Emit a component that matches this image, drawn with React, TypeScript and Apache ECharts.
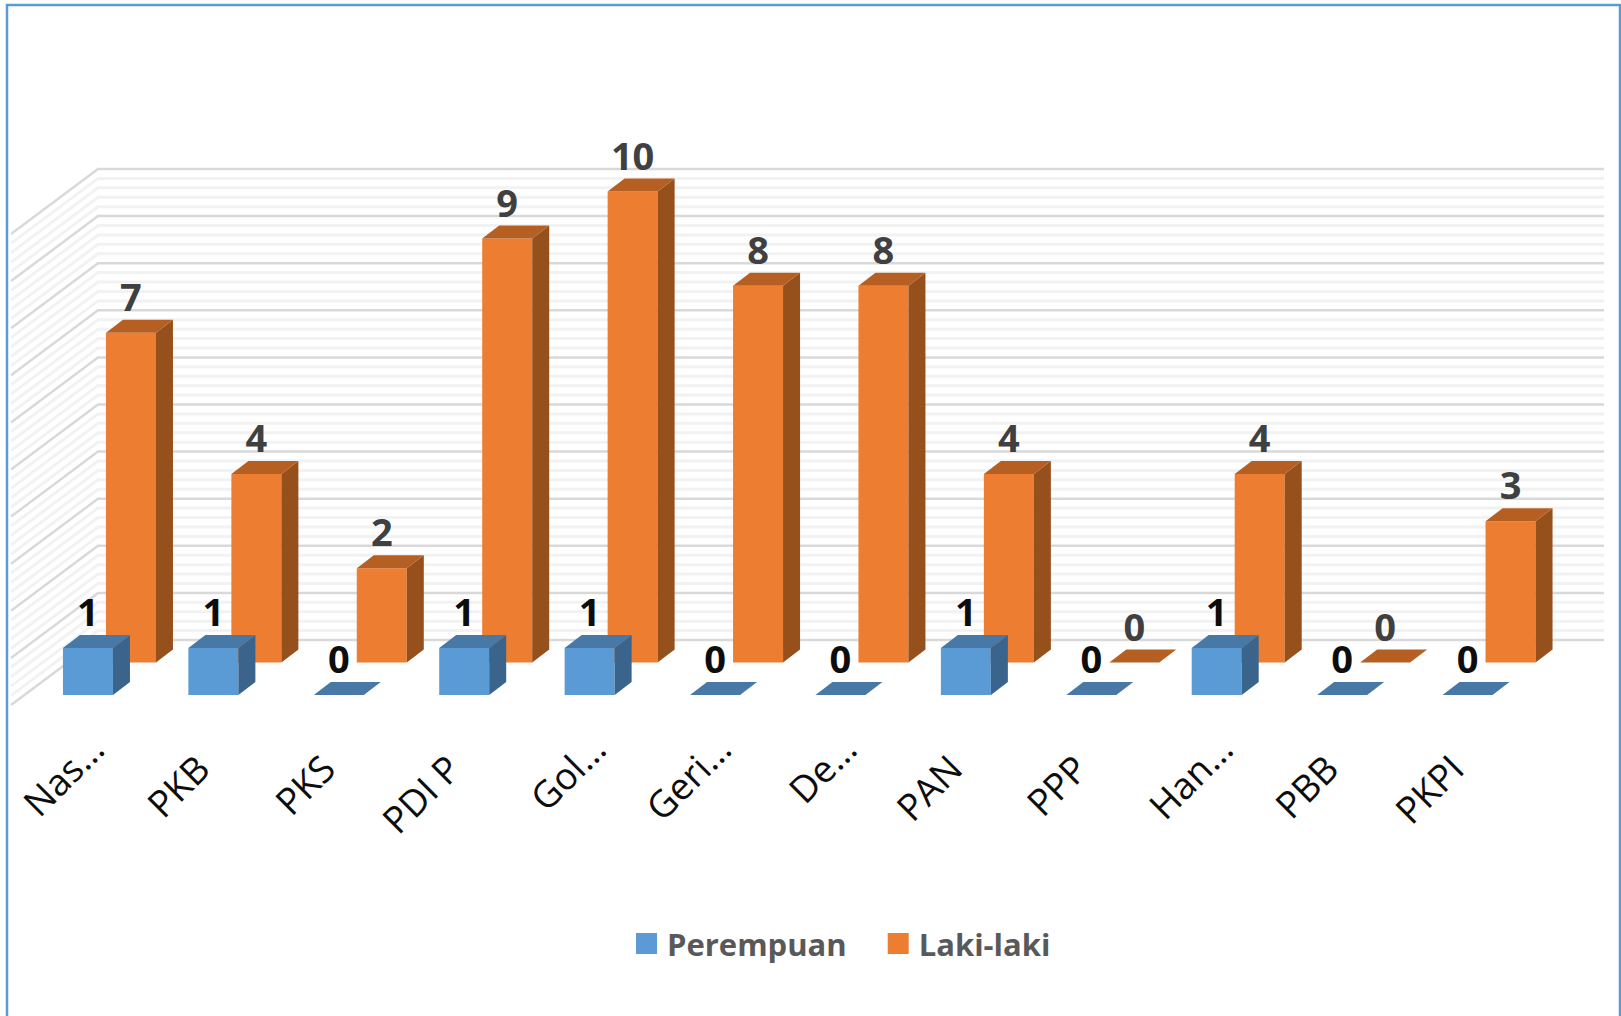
import React, { useEffect, useRef } from "react";
import * as echarts from "echarts";

const categories = ["Nas…", "PKB", "PKS", "PDI P", "Gol…", "Geri…", "De…", "PAN", "PPP", "Han…", "PBB", "PKPI"];
const perempuan = [1, 1, 0, 1, 1, 0, 0, 1, 0, 1, 0, 0];
const lakiLaki = [7, 4, 2, 9, 10, 8, 8, 4, 0, 4, 0, 3];
const gridValues = [
  0, 0.2, 0.4, 0.6, 0.8, 1, 1.2, 1.4, 1.6, 1.8, 2, 2.2, 2.4, 2.6, 2.8, 3, 3.2, 3.4, 3.6, 3.8, 4, 4.2, 4.4, 4.6, 4.8,
  5, 5.2, 5.4, 5.6, 5.8, 6, 6.2, 6.4, 6.6, 6.8, 7, 7.2, 7.4, 7.6, 7.8, 8, 8.2, 8.4, 8.6, 8.8, 9, 9.2, 9.4, 9.6, 9.8, 10,
];

const FONT = "'Open Sans', sans-serif";
const WALL_DX = 87;
const WALL_DY = -65;
const BAR_W = 50;
const DEPTH_DX = 17;
const DEPTH_DY = -13;

function barRenderer(offX: number, offY: number, front: string, top: string, side: string, labelColor: string) {
  return (_params: any, api: any) => {
    const i = api.value(0);
    const v = api.value(1);
    const base = api.coord([i, 0]);
    const head = api.coord([i, v]);
    const x0 = base[0] + offX - BAR_W / 2;
    const x1 = x0 + BAR_W;
    const yb = base[1] + offY;
    const yt = head[1] + offY;
    const children: any[] = [];
    if (v > 0) {
      children.push({ type: "rect", shape: { x: x0, y: yt, width: BAR_W, height: yb - yt }, style: { fill: front } });
      children.push({
        type: "polygon",
        shape: { points: [[x1, yt], [x1 + DEPTH_DX, yt + DEPTH_DY], [x1 + DEPTH_DX, yb + DEPTH_DY], [x1, yb]] },
        style: { fill: side },
      });
    }
    children.push({
      type: "polygon",
      shape: { points: [[x0, yt], [x1, yt], [x1 + DEPTH_DX, yt + DEPTH_DY], [x0 + DEPTH_DX, yt + DEPTH_DY]] },
      style: { fill: top },
    });
    children.push({
      type: "text",
      style: {
        text: String(v),
        x: (x0 + x1) / 2,
        y: yt + DEPTH_DY - 5,
        textAlign: "center",
        textVerticalAlign: "bottom",
        fontFamily: FONT,
        fontSize: 38,
        fontWeight: "bold",
        fill: labelColor,
      },
    });
    return { type: "group", children };
  };
}

export default function App() {
  const ref = useRef<HTMLDivElement>(null);
  useEffect(() => {
    document.body.style.margin = "0";
    document.body.style.overflow = "hidden";
    const chart = echarts.init(ref.current!, undefined, { renderer: "svg" });
    chart.setOption({
      animation: false,
      backgroundColor: "#ffffff",
      grid: { left: 11, top: 234, width: 1505, height: 471 },
      xAxis: {
        type: "category",
        data: categories.map((c) => ({
          value: c,
          textStyle: { padding: [0, c.endsWith("…") ? -32 : -4, 0, 0] },
        })),
        axisLine: { show: false },
        axisTick: { show: false },
        splitLine: { show: false },
        axisLabel: {
          interval: 0,
          rotate: 45,
          margin: 59,
          fontFamily: FONT,
          fontSize: 37,
          color: "#0d0d0d",
        },
      },
      yAxis: { type: "value", min: 0, max: 10, interval: 1, show: false, splitLine: { show: false } },
      legend: {
        left: 631,
        top: 923,
        itemWidth: 21,
        itemHeight: 21,
        itemGap: 41,
        icon: "rect",
        data: ["Perempuan", "Laki-laki"],
        textStyle: { fontFamily: FONT, fontSize: 31, fontWeight: "bold", color: "#595959", padding: [0, 0, 0, 5] },
      },
      graphic: [
        {
          type: "polyline",
          silent: true,
          shape: { points: [[7, 1016], [7, 5], [1620, 5], [1620, 1016]] },
          style: { stroke: "#5b9bd5", lineWidth: 2.5, fill: "none" },
        },
      ],
      series: [
        {
          type: "custom",
          name: "walls",
          z: 1,
          silent: true,
          clip: false,
          data: gridValues.map((g) => [0, g]),
          renderItem: (params: any, api: any) => {
            const g = api.value(1);
            const major = Number.isInteger(g);
            const cs = params.coordSys;
            const y = api.coord([0, g])[1];
            return {
              type: "polyline",
              z2: major ? 2 : 1,
              shape: {
                points: [
                  [cs.x, y],
                  [cs.x + WALL_DX, y + WALL_DY],
                  [cs.x + cs.width + WALL_DX + 1, y + WALL_DY],
                ],
              },
              style: { stroke: major ? "#d9d9d9" : "#f2f2f2", lineWidth: major ? 2.5 : 3, fill: "none" },
            };
          },
        },
        {
          type: "custom",
          name: "Laki-laki",
          z: 2,
          clip: false,
          itemStyle: { color: "#ed7d31" },
          data: lakiLaki.map((v, i) => [i, v]),
          renderItem: barRenderer(57.25, -42.5, "#ed7d31", "#b55f23", "#96501c", "#404040"),
        },
        {
          type: "custom",
          name: "Perempuan",
          z: 3,
          clip: false,
          itemStyle: { color: "#5b9bd5" },
          data: perempuan.map((v, i) => [i, v]),
          renderItem: barRenderer(14.25, -10, "#5b9bd5", "#4878a5", "#3a648b", "#0d0d0d"),
        },
      ],
    });
    return () => chart.dispose();
  }, []);
  return <div ref={ref} style={{ position: "absolute", left: 0, top: 0, width: 1621, height: 1016 }} />;
}
